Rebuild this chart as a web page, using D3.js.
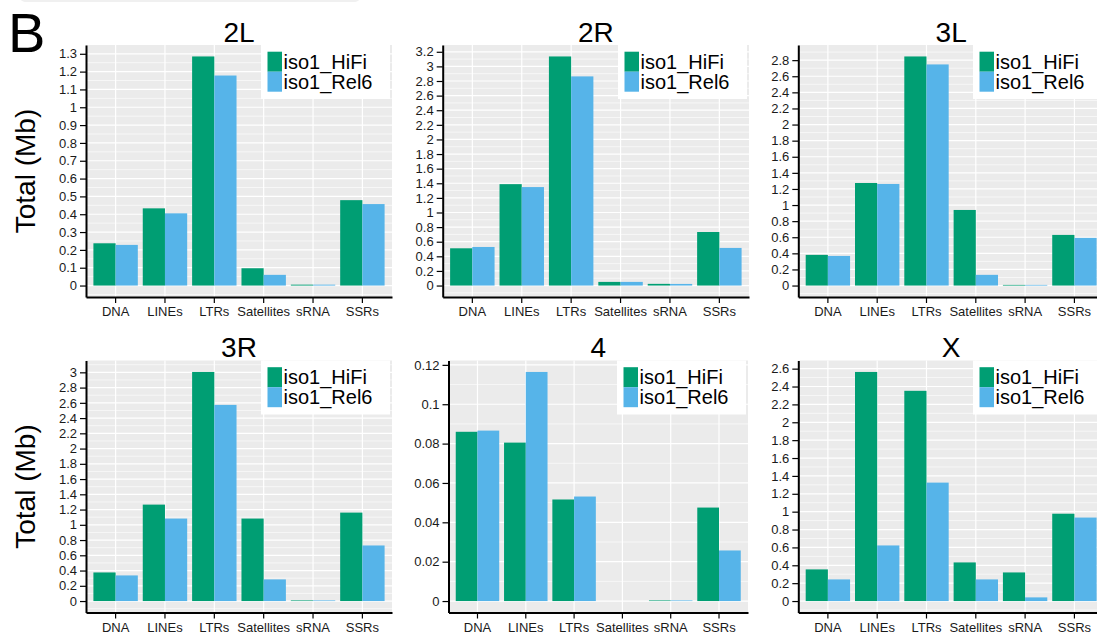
<!DOCTYPE html>
<html>
<head>
<meta charset="UTF-8">
<script src="https://d3js.org/d3.v7.min.js"></script>
<style>
    html, body { margin:0; padding:0; background:#fff; }
    svg { display:block; font-family:"Liberation Sans", Arial, Helvetica, sans-serif; }
</style>
</head>
<body>
<svg id="chart" width="1097" height="638"></svg>
<script>
    // categories, series and chromosome arms
    const categories = ["DNA", "LINEs", "LTRs", "Satellites", "sRNA", "SSRs"];
    const seriesNames = ["iso1_HiFi", "iso1_Rel6"];
    const seriesColors = ["#009E73", "#56B4E9"];
    const chromosomes = ["2L", "2R", "3L", "3R", "4", "X"];

    // values (Mb)
    const hifi2L = [0.237, 0.433, 1.285, 0.097, 0.005, 0.479];
    const rel2L  = [0.228, 0.405, 1.178, 0.060, 0.005, 0.457];
    const hifi2R = [0.510, 1.388, 3.136, 0.050, 0.023, 0.733];
    const rel2R  = [0.528, 1.348, 2.863, 0.050, 0.022, 0.515];
    const hifi3L = [0.381, 1.274, 2.846, 0.939, 0.008, 0.629];
    const rel3L  = [0.368, 1.262, 2.747, 0.133, 0.008, 0.592];
    const hifi3R = [0.375, 1.265, 3.005, 1.082, 0.008, 1.160];
    const rel3R  = [0.336, 1.082, 2.573, 0.284, 0.008, 0.729];
    const hifi4  = [0.0860, 0.0805, 0.0516, 0, 0.0003, 0.0475];
    const rel4   = [0.0866, 0.1164, 0.0531, 0, 0.0003, 0.0257];
    const hifiX  = [0.354, 2.563, 2.352, 0.432, 0.320, 0.977];
    const relX   = [0.242, 0.622, 1.325, 0.242, 0.041, 0.934];

    const hifiValues = [hifi2L, hifi2R, hifi3L, hifi3R, hifi4, hifiX];
    const relValues  = [rel2L, rel2R, rel3L, rel3R, rel4, relX];
    const tickSteps  = [0.1, 0.2, 0.2, 0.2, 0.02, 0.2];

    // panel placement
    const panelLeft  = [86, 442.7, 798.3, 86, 448.5, 798.3];
    const panelRight = [392, 749, 1104, 392, 748, 1104];
    const panelTop   = [45, 45, 45, 360.5, 360.5, 360.5];
    const panelH = 252;

    const svg = d3.select("#chart");

    // little grey strip at the very top
    svg.append("rect")
        .attr("x", 20).attr("y", -8).attr("width", 340).attr("height", 10)
        .attr("rx", 5).attr("fill", "#f0f0f0");

    svg.append("text")
        .attr("x", 8).attr("y", 52)
        .attr("font-size", 56)
        .attr("fill", "#000")
        .text("B");

    const fmt = v => String(+v.toFixed(4));

    chromosomes.forEach((chr, i) => {
        const L = panelLeft[i], R = panelRight[i], T = panelTop[i], B = T + panelH;
        const hifi = hifiValues[i], rel = relValues[i];
        const m = d3.max(hifi.concat(rel));
        const step = tickSteps[i];

        const x = d3.scaleBand().domain(categories).range([L, R])
            .paddingInner(0).paddingOuter(0.1);
        const bw = x.bandwidth();
        const xSub = d3.scaleBand().domain(seriesNames).range([0.05 * bw, 0.95 * bw]);
        const y = d3.scaleLinear().domain([-0.05 * m, 1.05 * m]).range([B, T]);

        const majors = d3.range(0, Math.floor(1.05 * m / step + 1e-6) + 1).map(k => +(k * step).toFixed(4));
        const minors = d3.range(-1, majors.length).map(k => (k + 0.5) * step)
            .filter(v => v > y.domain()[0] && v < y.domain()[1]);

        const g = svg.append("g");

        g.append("rect")
            .attr("x", L).attr("y", T).attr("width", R - L).attr("height", panelH)
            .attr("fill", "#EBEBEB");

        g.selectAll(".minor").data(minors).join("line")
            .attr("x1", L).attr("x2", R)
            .attr("y1", d => y(d)).attr("y2", d => y(d))
            .attr("stroke", "#fff").attr("stroke-width", 0.6);

        g.selectAll(".major").data(majors).join("line")
            .attr("x1", L).attr("x2", R)
            .attr("y1", d => y(d)).attr("y2", d => y(d))
            .attr("stroke", "#fff").attr("stroke-width", 1.2);

        g.selectAll(".vgrid").data(categories).join("line")
            .attr("x1", d => x(d) + bw / 2).attr("x2", d => x(d) + bw / 2)
            .attr("y1", T).attr("y2", B)
            .attr("stroke", "#fff").attr("stroke-width", 1.2);

        const bars = [];
        categories.forEach((c, j) => {
            bars.push({ cat: c, s: 0, v: hifi[j] });
            bars.push({ cat: c, s: 1, v: rel[j] });
        });

        g.selectAll(".bar").data(bars).join("rect")
            .attr("x", d => x(d.cat) + xSub(seriesNames[d.s]))
            .attr("width", xSub.bandwidth())
            .attr("y", d => y(d.v))
            .attr("height", d => y(0) - y(d.v))
            .attr("fill", d => seriesColors[d.s]);

        // axes
        const yAxis = g.append("g")
            .attr("transform", `translate(${L},0)`)
            .call(d3.axisLeft(y).tickValues(majors).tickFormat(fmt)
                .tickSize(6).tickSizeOuter(0).tickPadding(3));
        const xAxis = g.append("g")
            .attr("transform", `translate(0,${B})`)
            .call(d3.axisBottom(x).tickSize(6).tickSizeOuter(0).tickPadding(4));

        [yAxis, xAxis].forEach(a => {
            a.select(".domain").attr("stroke", "#000").attr("stroke-width", 2);
            a.selectAll(".tick line").attr("stroke", "#000").attr("stroke-width", 1.2);
            a.selectAll(".tick text").attr("fill", "#1a1a1a").attr("font-size", 13)
                .attr("font-family", "Liberation Sans, Arial, sans-serif");
        });

        // title
        g.append("text")
            .attr("x", (L + R) / 2)
            .attr("y", T - 3.5)
            .attr("text-anchor", "middle")
            .attr("font-size", 28)
            .text(chr);

        // legend: keys stacked tight, labels in one text block
        const lx = R - 131, ly = T;
        const leg = g.append("g");
        leg.append("rect")
            .attr("x", lx).attr("y", ly).attr("width", 129).attr("height", 54)
            .attr("fill", "#fff");
        leg.selectAll(".key").data(seriesNames).join("rect")
            .attr("x", lx + 6.5)
            .attr("y", (d, k) => ly + 6.7 + k * 20)
            .attr("width", 14.5).attr("height", 20)
            .attr("fill", (d, k) => seriesColors[k]);
        leg.append("text")
            .attr("font-size", 20)
            .selectAll("tspan").data(seriesNames).join("tspan")
            .attr("x", lx + 22.5)
            .attr("y", (d, k) => ly + 6.7 + k * 20 + 17)
            .text(d => d);

        if (i % 3 === 0) {
            const cy = (T + B) / 2;
            g.append("text")
                .attr("transform", `translate(35,${cy}) rotate(-90)`)
                .attr("text-anchor", "middle")
                .attr("font-size", 28)
                .text("Total (Mb)");
        }
    });
</script>
</body>
</html>
